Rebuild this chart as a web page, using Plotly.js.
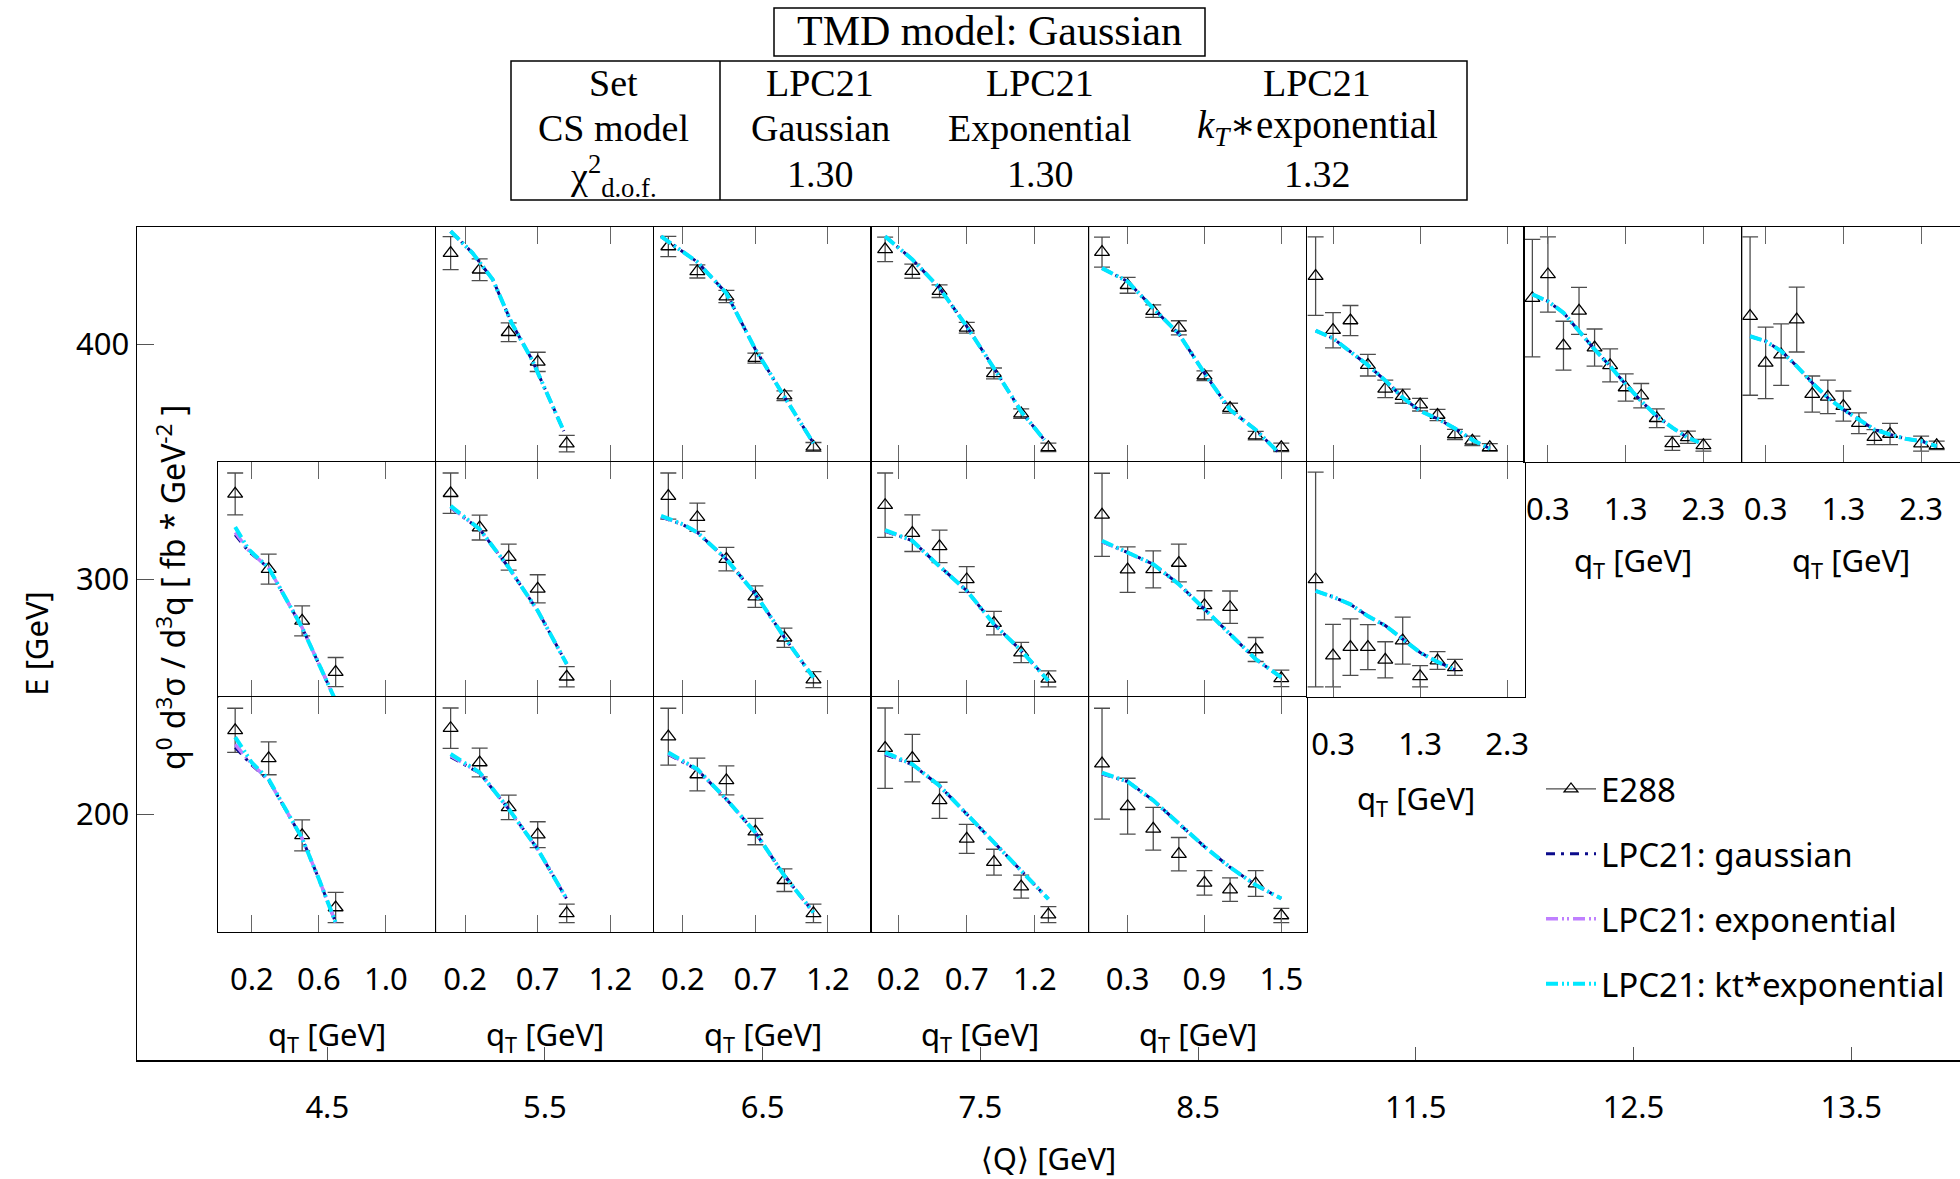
<!DOCTYPE html>
<html><head><meta charset="utf-8">
<script src="https://cdn.plot.ly/plotly-3.0.1.min.js"></script>
<style>html,body{margin:0;padding:0;background:#fff}</style>
</head><body><div id="chart" style="width:1960px;height:1179px"></div>
<script>
// ================= DATA =================
// Outer grid: columns are <Q> bins, rows are beam energy E.
const Q_LABELS = ['4.5','5.5','6.5','7.5','8.5','11.5','12.5','13.5'];
const E_TICKS = [200, 300, 400];
const QT_TICKS = [[0.2,0.6,1.0],[0.2,0.7,1.2],[0.2,0.7,1.2],[0.2,0.7,1.2],[0.3,0.9,1.5],[0.3,1.3,2.3],[0.3,1.3,2.3],[0.3,1.3,2.3]];
const SERIES = ['E288','LPC21: gaussian','LPC21: exponential','LPC21: kt*exponential'];
// Header table
const TABLE_TITLE = 'TMD model: Gaussian';
const TABLE_ROWS = ['Set','CS model','χ<sup>2</sup><sub>d.o.f.</sub>'];
const TABLE_SET = ['LPC21','LPC21','LPC21'];
const TABLE_CS = ['Gaussian','Exponential','<i>k</i><sub><i>T</i></sub>∗exponential'];
const TABLE_CHI2 = ['1.30','1.30','1.32'];
// Panel y values: relative height inside each panel (no numeric scale printed)

// Q=4.5, E=300
const q45_e300_qT = [0.1,0.3,0.5,0.7];
const q45_e300_y = [0.864,0.544,0.324,0.106];
const q45_e300_err = [0.089,0.064,0.064,0.062];
const q45_e300_cqT = [0.1,0.18,0.3,0.42,0.5,0.6,0.69];
const q45_e300_gauss = [0.69,0.62,0.548,0.40,0.295,0.14,0.0];
const q45_e300_expo = [0.70,0.624,0.549,0.40,0.295,0.14,0.0];
const q45_e300_kt = [0.723,0.628,0.55,0.40,0.295,0.14,0.0];
// Q=4.5, E=200
const q45_e200_qT = [0.1,0.3,0.5,0.7];
const q45_e200_y = [0.858,0.739,0.411,0.104];
const q45_e200_err = [0.094,0.070,0.066,0.064];
const q45_e200_cqT = [0.1,0.2,0.3,0.4,0.5,0.6,0.7];
const q45_e200_gauss = [0.785,0.71,0.645,0.52,0.398,0.225,0.04];
const q45_e200_expo = [0.798,0.714,0.647,0.52,0.398,0.225,0.04];
const q45_e200_kt = [0.829,0.72,0.65,0.52,0.398,0.225,0.04];

// Q=5.5, E=400
const q55_e400_qT = [0.1,0.3,0.5,0.7,0.9];
const q55_e400_y = [0.889,0.818,0.552,0.426,0.078];
const q55_e400_err = [0.070,0.046,0.040,0.041,0.035];
const q55_e400_cqT = [0.1,0.25,0.39,0.52,0.66,0.8,0.88];
const q55_e400_gauss = [0.982,0.890,0.777,0.592,0.436,0.238,0.131];
const q55_e400_expo = [0.982,0.890,0.777,0.592,0.436,0.238,0.131];
const q55_e400_kt = [0.982,0.890,0.777,0.592,0.436,0.238,0.131];
// Q=5.5, E=300
const q55_e300_qT = [0.1,0.3,0.5,0.7,0.9];
const q55_e300_y = [0.867,0.721,0.595,0.460,0.086];
const q55_e300_err = [0.086,0.053,0.055,0.060,0.043];
const q55_e300_cqT = [0.1,0.3,0.5,0.7,0.9];
const q55_e300_gauss = [0.805,0.714,0.551,0.367,0.140];
const q55_e300_expo = [0.808,0.714,0.551,0.367,0.140];
const q55_e300_kt = [0.813,0.714,0.551,0.367,0.140];
// Q=5.5, E=200
const q55_e200_qT = [0.1,0.3,0.5,0.7,0.9];
const q55_e200_y = [0.867,0.721,0.530,0.414,0.079];
const q55_e200_err = [0.086,0.061,0.052,0.055,0.039];
const q55_e200_cqT = [0.1,0.3,0.5,0.7,0.9];
const q55_e200_gauss = [0.745,0.676,0.523,0.352,0.140];
const q55_e200_expo = [0.750,0.677,0.523,0.352,0.140];
const q55_e200_kt = [0.757,0.679,0.523,0.352,0.140];

// Q=6.5, E=400
const q65_e400_qT = [0.1,0.3,0.5,0.7,0.9,1.1];
const q65_e400_y = [0.917,0.811,0.704,0.442,0.282,0.064];
const q65_e400_err = [0.043,0.028,0.026,0.021,0.021,0.019];
const q65_e400_cqT = [0.05,0.3,0.5,0.7,0.9,1.1];
const q65_e400_gauss = [0.96,0.851,0.718,0.479,0.277,0.080];
const q65_e400_expo = [0.96,0.851,0.718,0.479,0.277,0.080];
const q65_e400_kt = [0.96,0.851,0.718,0.479,0.277,0.080];
// Q=6.5, E=300
const q65_e300_qT = [0.1,0.3,0.5,0.7,0.9,1.1];
const q65_e300_y = [0.855,0.765,0.587,0.427,0.252,0.074];
const q65_e300_err = [0.098,0.060,0.050,0.046,0.041,0.034];
const q65_e300_cqT = [0.05,0.2,0.3,0.5,0.7,0.9,1.1];
const q65_e300_gauss = [0.765,0.733,0.70,0.586,0.438,0.253,0.083];
const q65_e300_expo = [0.768,0.734,0.70,0.586,0.438,0.253,0.083];
const q65_e300_kt = [0.771,0.735,0.70,0.586,0.438,0.253,0.083];
// Q=6.5, E=200
const q65_e200_qT = [0.1,0.3,0.5,0.7,0.9,1.1];
const q65_e200_y = [0.831,0.670,0.645,0.427,0.220,0.079];
const q65_e200_err = [0.121,0.070,0.062,0.056,0.048,0.039];
const q65_e200_cqT = [0.1,0.3,0.5,0.7,0.9,1.1];
const q65_e200_gauss = [0.755,0.690,0.565,0.423,0.239,0.083];
const q65_e200_expo = [0.758,0.691,0.565,0.423,0.239,0.083];
const q65_e200_kt = [0.764,0.693,0.565,0.423,0.239,0.083];

// Q=7.5, E=400
const q75_e400_qT = [0.1,0.3,0.5,0.7,0.9,1.1,1.3];
const q75_e400_y = [0.905,0.812,0.727,0.571,0.377,0.206,0.062];
const q75_e400_err = [0.052,0.030,0.027,0.023,0.023,0.020,0.018];
const q75_e400_cqT = [0.1,0.3,0.5,0.7,0.9,1.1,1.27];
const q75_e400_gauss = [0.96,0.862,0.74,0.577,0.399,0.215,0.094];
const q75_e400_expo = [0.96,0.862,0.74,0.577,0.399,0.215,0.094];
const q75_e400_kt = [0.96,0.862,0.74,0.577,0.399,0.215,0.094];
// Q=7.5, E=300
const q75_e300_qT = [0.1,0.3,0.5,0.7,0.9,1.1,1.3];
const q75_e300_y = [0.816,0.697,0.641,0.500,0.314,0.189,0.077];
const q75_e300_err = [0.137,0.078,0.069,0.055,0.050,0.043,0.034];
const q75_e300_cqT = [0.1,0.3,0.46,0.7,0.9,1.1,1.3];
const q75_e300_gauss = [0.705,0.665,0.577,0.452,0.310,0.197,0.069];
const q75_e300_expo = [0.708,0.665,0.577,0.452,0.310,0.197,0.069];
const q75_e300_kt = [0.710,0.665,0.577,0.452,0.310,0.197,0.069];
// Q=7.5, E=200
const q75_e200_qT = [0.1,0.3,0.5,0.7,0.9,1.1,1.3];
const q75_e200_y = [0.782,0.740,0.560,0.396,0.297,0.193,0.074];
const q75_e200_err = [0.171,0.101,0.077,0.062,0.055,0.049,0.034];
const q75_e200_cqT = [0.1,0.3,0.5,0.7,0.9,1.1,1.3];
const q75_e200_gauss = [0.755,0.712,0.622,0.501,0.381,0.260,0.140];
const q75_e200_expo = [0.760,0.713,0.622,0.501,0.381,0.260,0.140];
const q75_e200_kt = [0.764,0.714,0.622,0.501,0.381,0.260,0.140];

// Q=8.5, E=400
const q85_e400_qT = [0.1,0.3,0.5,0.7,0.9,1.1,1.3,1.5];
const q85_e400_y = [0.893,0.752,0.642,0.571,0.367,0.229,0.112,0.062];
const q85_e400_err = [0.064,0.034,0.027,0.030,0.021,0.021,0.018,0.018];
const q85_e400_cqT = [0.1,0.3,0.5,0.7,0.9,1.1,1.3,1.47];
const q85_e400_gauss = [0.825,0.768,0.654,0.545,0.378,0.222,0.137,0.045];
const q85_e400_expo = [0.825,0.768,0.654,0.545,0.378,0.222,0.137,0.045];
const q85_e400_kt = [0.825,0.768,0.654,0.545,0.378,0.222,0.137,0.045];
// Q=8.5, E=300
const q85_e300_qT = [0.1,0.3,0.5,0.7,0.9,1.1,1.3,1.5];
const q85_e300_y = [0.775,0.542,0.543,0.570,0.390,0.382,0.202,0.079];
const q85_e300_err = [0.177,0.097,0.079,0.080,0.062,0.069,0.051,0.035];
const q85_e300_cqT = [0.1,0.3,0.5,0.7,0.9,1.1,1.3,1.5];
const q85_e300_gauss = [0.660,0.615,0.565,0.480,0.374,0.267,0.161,0.083];
const q85_e300_expo = [0.662,0.615,0.565,0.480,0.374,0.267,0.161,0.083];
const q85_e300_kt = [0.665,0.615,0.565,0.480,0.374,0.267,0.161,0.083];
// Q=8.5, E=200
const q85_e200_qT = [0.1,0.3,0.5,0.7,0.9,1.1,1.3,1.5];
const q85_e200_y = [0.716,0.535,0.439,0.331,0.209,0.180,0.206,0.070];
const q85_e200_err = [0.236,0.119,0.091,0.071,0.052,0.050,0.055,0.030];
const q85_e200_cqT = [0.1,0.3,0.5,0.7,0.9,1.1,1.3,1.5];
const q85_e200_gauss = [0.672,0.640,0.560,0.460,0.363,0.275,0.200,0.142];
const q85_e200_expo = [0.675,0.640,0.560,0.460,0.363,0.275,0.200,0.142];
const q85_e200_kt = [0.678,0.640,0.560,0.460,0.363,0.275,0.200,0.142];

// Q=11.5, E=400
const q115_e400_qT = [0.1,0.3,0.5,0.7,0.9,1.1,1.3,1.5,1.7,1.9,2.1];
const q115_e400_y = [0.791,0.561,0.602,0.412,0.311,0.280,0.244,0.200,0.117,0.090,0.062];
const q115_e400_err = [0.167,0.075,0.064,0.046,0.037,0.030,0.027,0.024,0.022,0.020,0.016];
const q115_e400_cqT = [0.1,0.3,0.5,0.7,0.9,1.1,1.3,1.5,1.7,1.9,2.1];
const q115_e400_gauss = [0.559,0.526,0.469,0.412,0.347,0.274,0.217,0.184,0.143,0.094,0.057];
const q115_e400_expo = [0.559,0.526,0.469,0.412,0.347,0.274,0.217,0.184,0.143,0.094,0.057];
const q115_e400_kt = [0.559,0.526,0.469,0.412,0.347,0.274,0.217,0.184,0.143,0.094,0.057];
// Q=11.5, E=300
const q115_e300_qT = [0.1,0.3,0.5,0.7,0.9,1.1,1.3,1.5,1.7];
const q115_e300_y = [0.500,0.176,0.212,0.212,0.158,0.240,0.088,0.155,0.126];
const q115_e300_err = [0.457,0.133,0.120,0.096,0.077,0.100,0.045,0.038,0.034];
const q115_e300_cqT = [0.1,0.3,0.5,0.7,0.9,1.1,1.3,1.5,1.7];
const q115_e300_gauss = [0.451,0.426,0.394,0.344,0.304,0.247,0.189,0.149,0.116];
const q115_e300_expo = [0.451,0.426,0.394,0.344,0.304,0.247,0.189,0.149,0.116];
const q115_e300_kt = [0.451,0.426,0.394,0.344,0.304,0.247,0.189,0.149,0.116];

// Q=12.5, E=400
const q125_e400_qT = [0.1,0.3,0.5,0.7,0.9,1.1,1.3,1.5,1.7,1.9,2.1,2.3];
const q125_e400_y = [0.697,0.798,0.495,0.643,0.487,0.411,0.317,0.282,0.186,0.079,0.105,0.071];
const q125_e400_err = [0.250,0.160,0.104,0.100,0.079,0.070,0.058,0.052,0.040,0.030,0.026,0.025];
const q125_e400_cqT = [0.1,0.3,0.5,0.7,0.9,1.1,1.3,1.5,1.7,1.9,2.1,2.24];
const q125_e400_gauss = [0.713,0.684,0.635,0.557,0.479,0.408,0.330,0.259,0.195,0.146,0.103,0.084];
const q125_e400_expo = [0.713,0.684,0.635,0.557,0.479,0.408,0.330,0.259,0.195,0.146,0.103,0.084];
const q125_e400_kt = [0.713,0.684,0.635,0.557,0.479,0.408,0.330,0.259,0.195,0.146,0.103,0.084];

// Q=13.5, E=400
const q135_e400_qT = [0.1,0.3,0.5,0.7,0.9,1.1,1.3,1.5,1.7,1.9,2.3,2.5];
const q135_e400_y = [0.621,0.422,0.457,0.606,0.289,0.277,0.238,0.165,0.106,0.119,0.078,0.071];
const q135_e400_err = [0.337,0.152,0.131,0.138,0.077,0.071,0.064,0.044,0.032,0.045,0.032,0.018];
const q135_e400_cqT = [0.1,0.3,0.5,0.7,0.9,1.1,1.3,1.5,1.7,1.9,2.1,2.3,2.5];
const q135_e400_gauss = [0.535,0.514,0.472,0.408,0.337,0.273,0.223,0.181,0.138,0.117,0.099,0.089,0.067];
const q135_e400_expo = [0.535,0.514,0.472,0.408,0.337,0.273,0.223,0.181,0.138,0.117,0.099,0.089,0.067];
const q135_e400_kt = [0.535,0.514,0.472,0.408,0.337,0.273,0.223,0.181,0.138,0.117,0.099,0.089,0.067];

// ================= PANEL LIST (built from the arrays above) =================
const panels = [
  {col:0,E:300,dq:q45_e300_qT,dy:q45_e300_y,de:q45_e300_err,cq:q45_e300_cqT,cg:q45_e300_gauss,ce:q45_e300_expo,ck:q45_e300_kt},
  {col:0,E:200,dq:q45_e200_qT,dy:q45_e200_y,de:q45_e200_err,cq:q45_e200_cqT,cg:q45_e200_gauss,ce:q45_e200_expo,ck:q45_e200_kt},
  {col:1,E:400,dq:q55_e400_qT,dy:q55_e400_y,de:q55_e400_err,cq:q55_e400_cqT,cg:q55_e400_gauss,ce:q55_e400_expo,ck:q55_e400_kt},
  {col:1,E:300,dq:q55_e300_qT,dy:q55_e300_y,de:q55_e300_err,cq:q55_e300_cqT,cg:q55_e300_gauss,ce:q55_e300_expo,ck:q55_e300_kt},
  {col:1,E:200,dq:q55_e200_qT,dy:q55_e200_y,de:q55_e200_err,cq:q55_e200_cqT,cg:q55_e200_gauss,ce:q55_e200_expo,ck:q55_e200_kt},
  {col:2,E:400,dq:q65_e400_qT,dy:q65_e400_y,de:q65_e400_err,cq:q65_e400_cqT,cg:q65_e400_gauss,ce:q65_e400_expo,ck:q65_e400_kt},
  {col:2,E:300,dq:q65_e300_qT,dy:q65_e300_y,de:q65_e300_err,cq:q65_e300_cqT,cg:q65_e300_gauss,ce:q65_e300_expo,ck:q65_e300_kt},
  {col:2,E:200,dq:q65_e200_qT,dy:q65_e200_y,de:q65_e200_err,cq:q65_e200_cqT,cg:q65_e200_gauss,ce:q65_e200_expo,ck:q65_e200_kt},
  {col:3,E:400,dq:q75_e400_qT,dy:q75_e400_y,de:q75_e400_err,cq:q75_e400_cqT,cg:q75_e400_gauss,ce:q75_e400_expo,ck:q75_e400_kt},
  {col:3,E:300,dq:q75_e300_qT,dy:q75_e300_y,de:q75_e300_err,cq:q75_e300_cqT,cg:q75_e300_gauss,ce:q75_e300_expo,ck:q75_e300_kt},
  {col:3,E:200,dq:q75_e200_qT,dy:q75_e200_y,de:q75_e200_err,cq:q75_e200_cqT,cg:q75_e200_gauss,ce:q75_e200_expo,ck:q75_e200_kt},
  {col:4,E:400,dq:q85_e400_qT,dy:q85_e400_y,de:q85_e400_err,cq:q85_e400_cqT,cg:q85_e400_gauss,ce:q85_e400_expo,ck:q85_e400_kt},
  {col:4,E:300,dq:q85_e300_qT,dy:q85_e300_y,de:q85_e300_err,cq:q85_e300_cqT,cg:q85_e300_gauss,ce:q85_e300_expo,ck:q85_e300_kt},
  {col:4,E:200,dq:q85_e200_qT,dy:q85_e200_y,de:q85_e200_err,cq:q85_e200_cqT,cg:q85_e200_gauss,ce:q85_e200_expo,ck:q85_e200_kt},
  {col:5,E:400,dq:q115_e400_qT,dy:q115_e400_y,de:q115_e400_err,cq:q115_e400_cqT,cg:q115_e400_gauss,ce:q115_e400_expo,ck:q115_e400_kt},
  {col:5,E:300,dq:q115_e300_qT,dy:q115_e300_y,de:q115_e300_err,cq:q115_e300_cqT,cg:q115_e300_gauss,ce:q115_e300_expo,ck:q115_e300_kt},
  {col:6,E:400,dq:q125_e400_qT,dy:q125_e400_y,de:q125_e400_err,cq:q125_e400_cqT,cg:q125_e400_gauss,ce:q125_e400_expo,ck:q125_e400_kt},
  {col:7,E:400,dq:q135_e400_qT,dy:q135_e400_y,de:q135_e400_err,cq:q135_e400_cqT,cg:q135_e400_gauss,ce:q135_e400_expo,ck:q135_e400_kt}
];

// ================= LAYOUT / STYLE =================
const W = 1960, H = 1179;
const M = {l:137, r:0, t:227, b:119};
const PW = W - M.l - M.r, PH = H - M.t - M.b;
const OUTER_X = [-0.874, 7.5];
const OUTER_Y = [95.5, 450];
const QT_RANGE = [1.3,1.5,1.5,1.6,1.7,2.5,2.8,2.8];
const FONT = 'Noto Sans, Open Sans, DejaVu Sans, sans-serif';
const SERIF = 'Liberation Serif, DejaVu Serif, serif';
const COLORS = {data:'#000000', err:'#4d4d4d', gauss:'#0b0b8c', expo:'#bf7fff', kt:'#00e8ff'};
const DASH_G = '9px,6px,3px,6px';
const DASH_E = '12px,4px,2px,3px,2px,4px';

const px2x = p => (p - M.l) / PW;
const px2y = p => (H - M.b - p) / PH;
const clamp = v => Math.max(0, Math.min(1, v));
const xspan = OUTER_X[1] - OUTER_X[0], yspan = OUTER_Y[1] - OUTER_Y[0];
const colDomain = c => [clamp((c - 0.5 - OUTER_X[0]) / xspan), clamp((c + 0.5 - OUTER_X[0]) / xspan)];
const rowDomain = E => [clamp((E - 50 - OUTER_Y[0]) / yspan), clamp((E + 50 - OUTER_Y[0]) / yspan)];

// lowest panel of each column gets tick labels
const bottomE = {};
panels.forEach(p => { bottomE[p.col] = Math.min(bottomE[p.col] ?? 1e9, p.E); });

const traces = [];
// legend sample for E288 (error-bar style key)
traces.push({type:'scatter', x:[null], y:[null], xaxis:'x', yaxis:'y', mode:'lines+markers',
  name:SERIES[0], legendgroup:'E288', showlegend:true,
  line:{color:COLORS.err, width:1.3},
  marker:{symbol:'triangle-up-open', size:12, color:COLORS.data, line:{width:1.3}}});

const layout = {
  width:W, height:H, margin:M, paper_bgcolor:'#fff', plot_bgcolor:'#fff',
  font:{family:FONT, size:31, color:'#000'},
  showlegend:true,
  legend:{x:px2x(1541), y:px2y(761), xanchor:'left', yanchor:'top', bgcolor:'rgba(0,0,0,0)',
          font:{family:FONT, size:33}, traceorder:'grouped', tracegroupgap:19, itemwidth:50},
  xaxis:{range:OUTER_X, tickmode:'array', tickvals:Q_LABELS.map((_,i)=>i), ticktext:Q_LABELS,
         ticks:'inside', ticklen:13, tickwidth:1, tickcolor:'#555', showline:true, mirror:true,
         linecolor:'#000', linewidth:1.5, showgrid:false, zeroline:false, ticklabelstandoff:19,
         tickfont:{size:31}, title:{text:'⟨Q⟩ [GeV]', standoff:31, font:{size:31}}, fixedrange:true},
  yaxis:{range:OUTER_Y, tickmode:'array', tickvals:E_TICKS, ticktext:E_TICKS.map(String),
         ticks:'inside', ticklen:17, tickwidth:1, tickcolor:'#555', showline:true, mirror:true,
         linecolor:'#000', linewidth:1.5, showgrid:false, zeroline:false, ticklabelstandoff:0,
         tickfont:{size:31}, title:{text:'E [GeV]', standoff:18, font:{size:31}}, fixedrange:true},
  annotations:[], shapes:[]
};

panels.forEach((p, i) => {
  const k = i + 2;
  const xa = 'x' + k, ya = 'y' + k;
  const isBottom = p.E === bottomE[p.col];
  layout['xaxis' + k] = {domain:colDomain(p.col), range:[0, QT_RANGE[p.col]], anchor:ya,
    tickmode:'array', tickvals:QT_TICKS[p.col], ticktext:QT_TICKS[p.col].map(v=>v.toFixed(1)),
    ticks:'inside', ticklen:17, tickwidth:1, tickcolor:'#666', mirror:'ticks', showline:true,
    linecolor:'#000', linewidth:1.3, showgrid:false, zeroline:false,
    showticklabels:isBottom, ticklabelstandoff:20, tickfont:{size:31}, fixedrange:true};
  layout['yaxis' + k] = {domain:rowDomain(p.E), range:[0, 1], anchor:xa,
    ticks:'', showticklabels:false, showline:true, mirror:true, linecolor:'#000', linewidth:1.3,
    showgrid:false, zeroline:false, fixedrange:true};
  const first = i === 0;
  traces.push({type:'scatter', mode:'markers', x:p.dq, y:p.dy, xaxis:xa, yaxis:ya,
    name:SERIES[0], legendgroup:'E288', showlegend:false,
    error_y:{type:'data', array:p.de, visible:true, color:COLORS.err, thickness:1.3, width:8},
    marker:{symbol:'triangle-up-open', size:13, color:COLORS.data, line:{width:1.3}}});
  traces.push({type:'scatter', mode:'lines', x:p.cq, y:p.cg, xaxis:xa, yaxis:ya,
    name:SERIES[1], legendgroup:'gauss', showlegend:first,
    line:{color:COLORS.gauss, width:3, dash:DASH_G}});
  traces.push({type:'scatter', mode:'lines', x:p.cq, y:p.ce, xaxis:xa, yaxis:ya,
    name:SERIES[2], legendgroup:'expo', showlegend:first,
    line:{color:COLORS.expo, width:3.5, dash:DASH_E}});
  traces.push({type:'scatter', mode:'lines', x:p.cq, y:p.ck, xaxis:xa, yaxis:ya,
    name:SERIES[3], legendgroup:'kt', showlegend:first,
    line:{color:COLORS.kt, width:4, dash:DASH_E}});
});

// q_T axis titles under the lowest panel of each column
Q_LABELS.forEach((_, c) => {
  const yb = bottomE[c];
  const ypx = yb === 200 ? 1036 : (yb === 300 ? 800 : 562);
  layout.annotations.push({xref:'x', yref:'paper', x:c, y:px2y(ypx), yanchor:'middle',
    text:'q<sub>T</sub> [GeV]', showarrow:false, font:{size:31}});
});
// inner y-axis title
layout.annotations.push({xref:'paper', yref:'paper', x:px2x(171), y:px2y(588), xanchor:'center', yanchor:'middle',
  textangle:-90, text:'q<sup>0</sup> d<sup>3</sup>σ / d<sup>3</sup>q [ fb * GeV<sup>-2</sup> ]',
  showarrow:false, font:{size:32}});

// header table
const tf = {family:SERIF, size:38, color:'#000'};
const addT = (text, xp, yp, size) => layout.annotations.push({xref:'paper', yref:'paper',
  x:px2x(xp), y:px2y(yp), xanchor:'center', yanchor:'middle', text, showarrow:false,
  font:Object.assign({}, tf, size ? {size} : {})});
addT(TABLE_TITLE, 989, 31, 42);
const colX = [820, 1040, 1317];
const rowY = [83, 128, 174];
addT(TABLE_ROWS[0], 613, rowY[0]);
addT(TABLE_ROWS[1], 613, rowY[1]);
addT(TABLE_ROWS[2], 613, rowY[2] + 2);
colX.forEach((x, j) => { addT(TABLE_SET[j], x, rowY[0]); addT(TABLE_CS[j], x, rowY[1], j === 2 ? 39 : null); addT(TABLE_CHI2[j], x, rowY[2]); });
const rect = (x0, y0, x1, y1) => ({type:'rect', xref:'paper', yref:'paper',
  x0:px2x(x0), x1:px2x(x1), y0:px2y(y1), y1:px2y(y0), line:{color:'#000', width:1.5}, fillcolor:'rgba(0,0,0,0)'});
layout.shapes.push(rect(774, 8, 1205, 56));
layout.shapes.push(rect(511, 61, 1467, 200));
layout.shapes.push({type:'line', xref:'paper', yref:'paper', x0:px2x(720), x1:px2x(720),
  y0:px2y(61), y1:px2y(200), line:{color:'#000', width:1.5}});

Plotly.newPlot('chart', traces, layout, {staticPlot:true, displayModeBar:false});
</script></body></html>
